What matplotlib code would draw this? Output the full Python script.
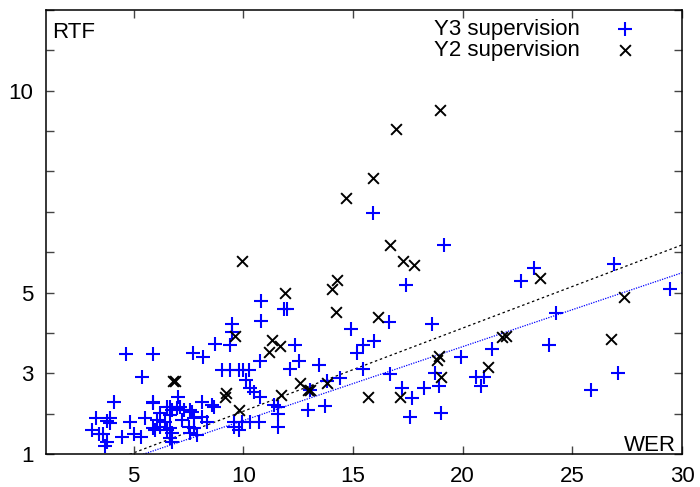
import matplotlib
matplotlib.use("Agg")
import matplotlib.pyplot as plt
import numpy as np

plt.rcParams['font.family'] = ['Liberation Sans', 'DejaVu Sans']

# Y3 supervision (blue +)
y3_wer = [4.64, 5.90, 5.40, 4.12, 5.90, 3.30, 3.90, 3.77, 3.90, 3.09, 3.40, 3.60, 3.80, 3.70,
          4.46, 4.84, 4.99, 5.32, 5.52, 5.98,
          5.90, 7.04, 8.10, 8.57, 6.50, 6.66, 6.74, 6.97, 6.21, 6.66, 7.27, 7.65, 6.05, 6.43,
          7.20, 7.73, 8.11, 8.34, 5.90, 6.21, 6.51, 6.66, 6.74, 7.50, 7.73, 7.58, 7.88, 6.66,
          6.74, 7.10, 7.58, 8.64,
          9.48, 9.50, 10.80, 8.72, 9.40, 7.70, 8.18, 10.74, 9.02, 9.40, 9.78, 10.00, 10.24,
          10.13, 10.30, 10.50, 10.77, 9.55, 9.94, 10.30, 10.70, 9.55, 9.78,
          11.60, 11.60, 11.60, 11.38, 10.82, 11.84, 11.99,
          12.34, 12.55, 12.14, 13.43, 14.93, 15.16, 15.46, 15.95, 16.63, 17.42,
          15.46, 14.42, 16.68, 13.82, 13.05, 13.74, 12.93,
          17.24, 17.70, 17.62, 18.23, 18.61, 18.76, 18.90, 19.02, 19.94,
          15.92, 19.14,
          23.25, 22.64, 26.88, 29.46, 24.24, 23.94, 21.35, 20.59, 20.97, 20.85, 25.84, 27.06]
y3_rtf = [3.48, 3.48, 2.90, 2.30, 2.30, 1.88, 1.90, 1.82, 1.76, 1.60, 1.50, 1.50, 1.30, 1.20,
          1.41, 1.80, 1.50, 1.41, 1.88, 1.60,
          2.27, 2.42, 2.30, 2.21, 2.17, 2.17, 2.09, 2.13, 2.01, 1.97, 2.09, 2.05, 1.84, 1.80,
          1.84, 1.88, 1.92, 1.80, 1.64, 1.68, 1.59, 1.64, 1.51, 1.68, 1.64, 1.51, 1.47, 1.39,
          1.30, 2.17, 2.09, 2.17,
          4.22, 4.03, 4.30, 3.72, 3.70, 3.50, 3.41, 3.31, 3.08, 3.08, 3.08, 3.08, 3.08,
          2.83, 2.63, 2.54, 2.42, 1.80, 1.80, 1.80, 1.80, 1.68, 1.59,
          2.17, 2.00, 1.68, 2.21, 4.79, 4.58, 4.58,
          3.69, 3.31, 3.10, 3.20, 4.09, 3.49, 3.69, 3.80, 4.27, 5.18,
          3.10, 2.89, 2.98, 2.81, 2.58, 2.19, 2.09,
          2.63, 2.38, 1.92, 2.63, 4.22, 3.00, 2.68, 2.01, 3.41,
          6.98, 6.19,
          5.60, 5.29, 5.70, 5.08, 4.50, 3.70, 3.59, 2.91, 2.91, 2.68, 2.58, 3.00]

# Y2 supervision (black x)
y2_wer = [6.80, 6.90, 9.63, 11.30, 11.15, 9.17, 9.22, 9.78,
          11.90, 14.05, 14.24, 16.13, 11.68,
          12.57, 12.95, 13.05, 13.82, 11.72,
          15.67, 17.16, 18.90, 18.85, 18.99,
          18.96, 16.97, 15.92, 14.70, 9.94, 16.68, 17.29, 17.80, 14.27,
          23.53, 27.36, 21.80, 21.96, 21.15, 26.78]
y2_rtf = [2.80, 2.80, 3.92, 3.82, 3.53, 2.42, 2.50, 2.09,
          4.99, 5.10, 4.52, 4.40, 3.67,
          2.75, 2.58, 2.58, 2.75, 2.46,
          2.40, 2.40, 3.43, 3.33, 2.90,
          9.53, 9.06, 7.84, 7.35, 5.78, 6.19, 5.78, 5.68, 5.31,
          5.36, 4.89, 3.89, 3.92, 3.16, 3.86]

# fitted RTF = slope * WER lines
fit_slope_y3 = 0.183
fit_slope_y2 = 0.206

x_ticks = [5, 10, 15, 20, 25, 30]
y_ticks = [1, 3, 5, 10]

FS = 16

fig = plt.figure(figsize=(7.0, 4.87), dpi=100)
ax = fig.add_axes([46/700, 33/487, 636/700, 444/487])

xs = np.array([1.0, 30.0])
ax.plot(xs, fit_slope_y2 * xs, color='black', lw=0.9, ls=(0, (2, 2.2)), zorder=1)
ax.plot(xs, fit_slope_y3 * xs, color='#0000ff', lw=0.9, ls=(0, (1, 1)), zorder=1)

ax.scatter(y3_wer, y3_rtf, marker='+', s=92, linewidths=1.5, color='#0000ff',
           label='Y3 supervision', zorder=3)
ax.scatter(y2_wer, y2_rtf, marker='x', s=60, linewidths=1.4, color='black',
           label='Y2 supervision', zorder=4)

ax.set_xlim(1, 30)
ax.set_ylim(1, 12)
ax.set_xticks(x_ticks)
ax.set_xticklabels([str(t) for t in x_ticks])
ax.set_yticks(y_ticks)
ax.set_yticklabels([str(t) for t in y_ticks])
ax.set_yticks([v for v in range(1, 13) if v not in y_ticks], minor=True)
ax.tick_params(which='both', direction='in', top=True, right=True, length=6,
               width=1, color='#444444', labelsize=FS, pad=9)
ax.tick_params(which='minor', length=6)
for s in ax.spines.values():
    s.set_linewidth(1.1)

ax.text(0.009, 0.937, 'RTF', transform=ax.transAxes, fontsize=FS,
        ha='left', va='baseline')
ax.text(0.9906, 0.006, 'WER', transform=ax.transAxes, fontsize=FS,
        ha='right', va='baseline')

ax.legend(loc='upper right', bbox_to_anchor=(0.928, 0.979), markerfirst=False,
          frameon=False, fontsize=FS, handlelength=1.0, handletextpad=1.55,
          borderpad=0, borderaxespad=0, labelspacing=0.0)

fig.savefig('out.png', dpi=100)
